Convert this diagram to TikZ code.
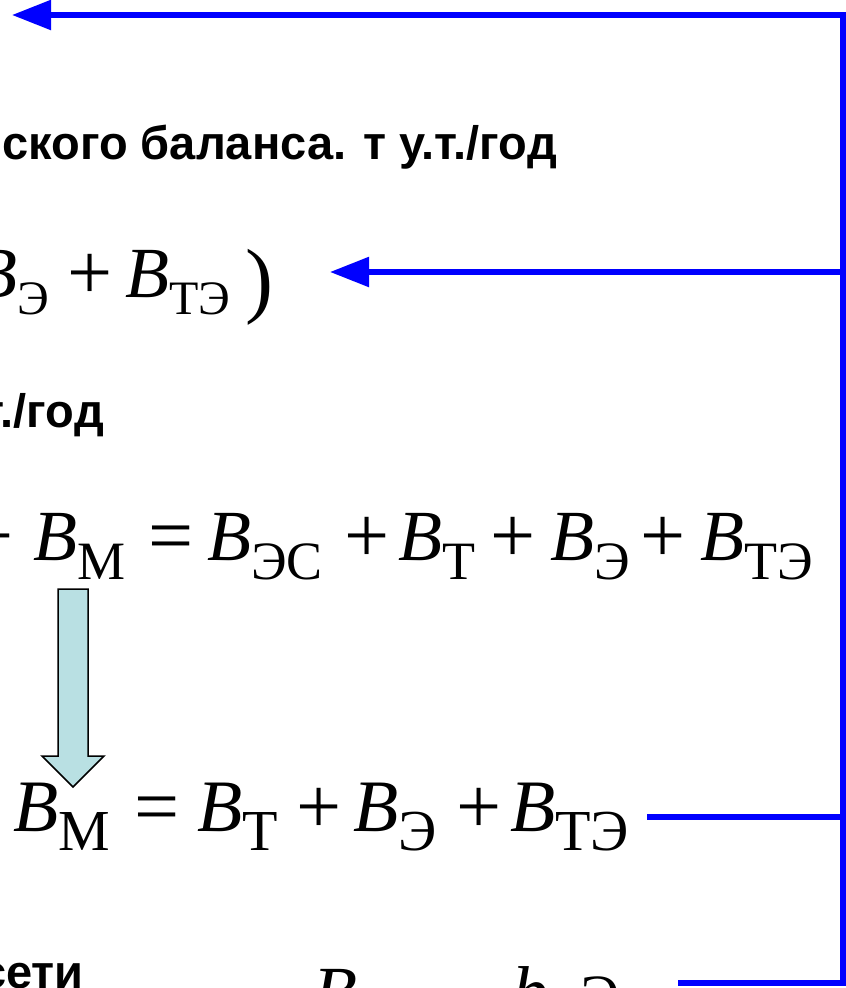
\documentclass[tikz,border=0pt]{standalone}
\usepackage{fontspec}
\setmainfont{Liberation Serif}
\newfontfamily\arialf{Liberation Sans}
\usetikzlibrary{arrows.meta}
\definecolor{lineblue}{RGB}{0,0,255}
\definecolor{arrowfill}{RGB}{185,224,227}
\newcommand\Bsym{\textit{B}}
% subscript: size, drop, text
\newcommand\subx[3]{\raisebox{-#2}{\fontsize{#1}{#1}\selectfont #3}}
\begin{document}
\begin{tikzpicture}[x=1pt,y=-1pt,
  lbl/.style={inner sep=0pt, anchor=base east, font=\arialf\bfseries\fontsize{47}{52}\selectfont},
  trm/.style={inner sep=0pt, anchor=base west, font=\fontsize{72}{80}\selectfont},
  trmL/.style={inner sep=0pt, anchor=base west, font=\fontsize{74}{80}\selectfont},
  opr/.style={inner sep=0pt, anchor=base, font=\fontsize{80}{88}\selectfont},
  fb/.style={draw=lineblue, line width=5.5pt, line join=miter},
  headtip/.tip={Triangle[length=39pt,width=29pt]}]
\useasboundingbox (0,0) rectangle (846,988);

% texts
\node[lbl] (t1) at (557,159) {ского баланса. т у.т./год};
\node[lbl] (t2) at (104,427) {у.т./год};
\node[lbl] (t3) at (84,988) {сети};

% formula 1 (baseline 297)
\node[trm] (f1a) at (-27,297) {\Bsym\subx{48}{17pt}{Э}};
\node[opr] (f1p) at (90,299) {+};
\node[trm] (f1b) at (125,297) {\Bsym\subx{48}{17pt}{ТЭ}};
\node[inner sep=0pt, anchor=base west, font=\fontsize{84}{90}\selectfont] (p1) at (245,307) {)};

% formula 2 (baseline 560)
\node[opr] (f2p0) at (-9,562) {+};
\node[trm] (f2a) at (33,560) {\Bsym\subx{54}{19pt}{М}};
\node[opr] (f2e) at (171,562) {=};
\node[trm] (f2b) at (207,560) {\Bsym\subx{54}{19pt}{ЭС}};
\node[opr] (f2p1) at (367,562) {+};
\node[trm] (f2c) at (398,560) {\Bsym\subx{54}{19pt}{Т}};
\node[opr] (f2p2) at (513,562) {+};
\node[trm] (f2d) at (550,560) {\Bsym\subx{54}{19pt}{Э}};
\node[opr] (f2p3) at (663,562) {+};
\node[trm] (f2f) at (700,560) {\Bsym\subx{54}{19pt}{ТЭ}};

% formula 3 (baseline 831)
\node[trmL] (f3a) at (13,831) {\Bsym\subx{58}{19pt}{М}};
\node[opr] (f3e) at (157,833) {=};
\node[trmL] (f3b) at (197,831) {\Bsym\subx{58}{19pt}{Т}};
\node[opr] (f3p1) at (319,833) {+};
\node[trmL] (f3c) at (353,831) {\Bsym\subx{58}{19pt}{Э}};
\node[opr] (f3p2) at (479,833) {+};
\node[trmL] (f3d) at (510,831) {\Bsym\subx{58}{19pt}{ТЭ}};

% formula 4 (cut by the lower edge)
\node[trm] (g1) at (313,1016) {\Bsym};
\node[trm] (g2) at (512,1016) {\textit{b}};
\node[inner sep=0pt, anchor=base west, font=\fontsize{60}{66}\selectfont] (g3) at (580,1016) {Э};

% block arrow
\draw[fill=arrowfill, draw=black, line width=1.5pt]
  (58,589) -- (88,589) -- (88,756) -- (104,756) -- (73,787) -- (42,756) -- (58,756) -- cycle;

% blue connectors
\coordinate (tip1) at (12,15);
\coordinate (TR) at (843,15);
\coordinate (BR) at (843,983);
\coordinate (L4) at (678,983);
\coordinate (R2) at (843,272);
\coordinate (tip2) at (330,272);
\coordinate (R3) at (843,817);
\coordinate (L3) at (647,817);

\draw[fb, headtip-] (tip1) -- (TR) -- (BR) -- (L4);
\draw[fb, -headtip] (R2) -- (tip2);
\draw[fb] (L3) -- (R3);
\end{tikzpicture}
\end{document}
